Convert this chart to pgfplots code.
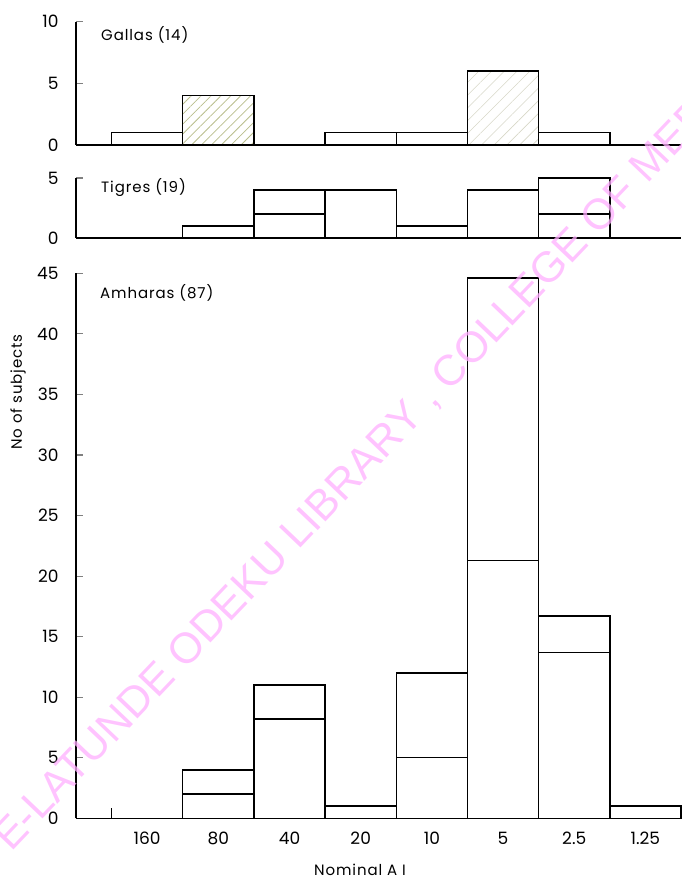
\documentclass[border=0pt]{standalone}
\usepackage{fontspec}
\setmainfont{Poppins}
\newfontfamily\wmfont{Liberation Sans}
\usepackage{pgfplots}
\pgfplotsset{compat=1.18}
\usetikzlibrary{patterns.meta}
\definecolor{hatchA}{RGB}{185,190,140}
\definecolor{hatchB}{RGB}{215,215,200}
\definecolor{wmpink}{RGB}{255,175,255}
\pgfplotsset{
  histo/.style={
    scale only axis, width=605pt, xmin=-1, xmax=7.5,
    enlargelimits=false,
    axis x line=bottom, axis y line=left,
    axis line style={-, line width=1.4pt},
    ybar, bar width=1,
    xtick=\empty,
    major tick length=7pt, tick align=inside,
    ytick style={line width=1.1pt},
    clip=false,
    /pgf/number format/assume math mode=true,
    yticklabel style={font=\fontsize{17}{17}\selectfont, xshift=-14pt},
  },
  hbar/.style={draw=black, line width=1.4pt, fill=white, bar shift=0pt},
}
\newcommand{\lab}{\fontsize{15}{15}\selectfont\addfontfeatures{LetterSpace=6}}
\begin{document}
\begin{tikzpicture}
\useasboundingbox (0,0) rectangle (681pt,881pt);
% Gallas
\begin{axis}[histo, at={(76pt,736pt)}, anchor=south west, height=123.3pt,
  ymin=0, ymax=10, ytick={0,5,10}]
  \addplot[hbar] coordinates {(0,1) (3,1) (4,1) (6,1)};
  \addplot[hbar, pattern={Lines[angle=45,distance=7pt,line width=0.8pt]}, pattern color=hatchA] coordinates {(1,4)};
  \addplot[hbar, pattern={Lines[angle=45,distance=9pt,line width=0.6pt]}, pattern color=hatchB] coordinates {(5,6)};
\end{axis}
% Tigres
\begin{axis}[histo, at={(76pt,643pt)}, anchor=south west, height=60pt,
  ymin=0, ymax=5, ytick={0,5}]
  \addplot[hbar] coordinates {(1,1) (2,4) (3,4) (4,1) (5,4) (6,5)};
  \addplot[hbar] coordinates {(2,2) (6,2)};
\end{axis}
% Amharas
\begin{axis}[histo, at={(76pt,62.7pt)}, anchor=south west, height=545pt,
  ymin=0, ymax=45, ytick={0,5,...,45},
  xtick={0,1,2,3,4,5,6,7},
  xticklabels={160,80,40,20,10,5,2.5,1.25},
  xtick style={draw=none},
  xticklabel style={font=\fontsize{17}{17}\selectfont, yshift=-10pt}]
  \addplot[hbar] coordinates {(1,4) (2,11) (3,1) (4,12) (5,44.6) (6,16.7) (7,1)};
  \addplot[hbar] coordinates {(1,2) (2,8.2) (4,5) (5,21.3) (6,13.7)};
  \draw[line width=1pt] (axis cs:-0.5,0) -- ++(0pt,10pt);
\end{axis}
% labels
\node[anchor=west, inner sep=0] at (101pt,846pt) {\lab Gallas (14)};
\node[anchor=west, inner sep=0] at (101pt,693pt) {\lab Tigres (19)};
\node[anchor=west, inner sep=0] at (100pt,588pt) {\lab Amharas (87)};
\node[rotate=90, inner sep=0] at (18pt,489pt) {\lab No of subjects};
\node[inner sep=0] at (360pt,11pt) {\lab Nominal A I};
% watermark
\begin{scope}
\clip (0,0) rectangle (681pt,881pt);
\node[anchor=base west, rotate=46.4, inner sep=0, text=wmpink, opacity=0.75,
  font=\wmfont\fontsize{43}{43}\selectfont] at (11pt,28pt)
  {E-LATUNDE ODEKU LIBRARY , COLLEGE OF MEDICINE};
\end{scope}
\end{tikzpicture}
\end{document}
